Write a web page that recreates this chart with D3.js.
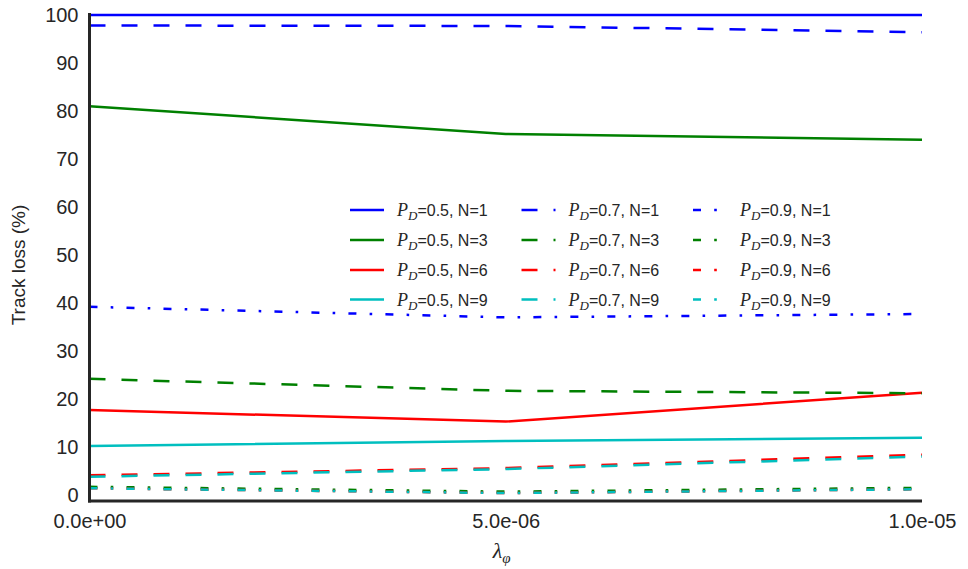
<!DOCTYPE html>
<html>
<head>
<meta charset="utf-8">
<script src="https://cdn.jsdelivr.net/npm/d3@7"></script>
<style>
  html, body { margin: 0; padding: 0; background: #fff; }
  svg { display: block; }
  text { font-family: "Liberation Sans", Arial, sans-serif; fill: #262626; }
</style>
</head>
<body>
<svg id="chart" width="968" height="569"></svg>
<script>
// Clutter rate λφ values along the x axis
const lambdaPhi = [0, 5e-6, 1e-5];
const xTicks = [0, 5e-6, 1e-5];
const yTicks = [0, 10, 20, 30, 40, 50, 60, 70, 80, 90, 100];

// Track loss (%) per detection probability P_D and N
const pd05_n1 = [100, 100, 100];
const pd05_n3 = [81.0, 75.2, 74.0];
const pd05_n6 = [17.7, 15.3, 21.3];
const pd05_n9 = [10.2, 11.25, 11.9];
const pd07_n1 = [97.8, 97.7, 96.4];
const pd07_n3 = [24.2, 21.7, 21.2];
const pd07_n6 = [4.1, 5.6, 8.4];
const pd07_n9 = [3.8, 5.4, 8.0];
const pd09_n1 = [39.2, 37.0, 37.7];
const pd09_n3 = [1.7, 0.7, 1.5];
const pd09_n6 = [1.4, 0.4, 1.2];
const pd09_n9 = [1.4, 0.4, 1.2];

const pdLevels = ["0.5", "0.7", "0.9"];
const nLevels = ["1", "3", "6", "9"];
const seriesValues = [
  [pd05_n1, pd05_n3, pd05_n6, pd05_n9],
  [pd07_n1, pd07_n3, pd07_n6, pd07_n9],
  [pd09_n1, pd09_n3, pd09_n6, pd09_n9]
];

const colorByN = ["#0000ff", "#008000", "#ff0000", "#00bfbf"];
const dashByPd = [null, "16,16", "8,13.2,2.6,13.2"];

const svg = d3.select("#chart");
const plotLeft = 89.5, plotRight = 922, plotTop = 13, plotBottom = 501;

const x = d3.scaleLinear().domain([0, 1e-5]).range([plotLeft, plotRight]);
const y = d3.scaleLinear().domain([-1.25, 100.4]).range([plotBottom, plotTop]);

// Lines, drawn P_D-major so later series sit on top
const line = d3.line().x((d, i) => x(lambdaPhi[i])).y(d => y(d));
const series = [];
pdLevels.forEach((pd, pi) => {
  nLevels.forEach((n, ni) => {
    series.push({ pd, n, values: seriesValues[pi][ni], color: colorByN[ni], dash: dashByPd[pi] });
  });
});

svg.append("g").selectAll("path")
  .data(series)
  .join("path")
  .attr("d", d => line(d.values))
  .attr("fill", "none")
  .attr("stroke", d => d.color)
  .attr("stroke-width", 2.5)
  .attr("stroke-dasharray", d => d.dash);

// Axes (ticks hidden, labels only)
const xAxis = d3.axisBottom(x).tickValues(xTicks).tickSize(0).tickPadding(13)
  .tickFormat(d => d3.format(".1e")(d).replace(/e([+-])(\d)$/, "e$10$2"));
const gx = svg.append("g").attr("transform", `translate(0,${plotBottom})`).call(xAxis);
gx.select(".domain").remove();
gx.selectAll("text").style("font-size", "20px").attr("fill", "#262626");

const yAxis = d3.axisLeft(y).tickValues(yTicks).tickSize(0).tickPadding(11).tickFormat(d3.format("d"));
const gy = svg.append("g").attr("transform", `translate(${plotLeft},0)`).call(yAxis);
gy.select(".domain").remove();
gy.selectAll("text").style("font-size", "20px").attr("fill", "#262626");

// Spines
svg.append("line").attr("x1", plotLeft).attr("x2", plotLeft).attr("y1", plotTop).attr("y2", plotBottom + 1.5)
  .attr("stroke", "#262626").attr("stroke-width", 3);
svg.append("line").attr("x1", plotLeft - 1.5).attr("x2", plotRight).attr("y1", plotBottom).attr("y2", plotBottom)
  .attr("stroke", "#262626").attr("stroke-width", 3);

// Axis titles
svg.append("text")
  .attr("transform", `translate(25,${(plotTop + plotBottom) / 2 + 8}) rotate(-90)`)
  .attr("text-anchor", "middle")
  .style("font-size", "19px")
  .text("Track loss (%)");

const xt = svg.append("text")
  .attr("x", (plotLeft + plotRight) / 2 - 4)
  .attr("y", 558)
  .attr("text-anchor", "middle")
  .style("font-family", "'Liberation Serif', 'DejaVu Serif', serif")
  .style("font-style", "italic")
  .style("font-size", "22px");
xt.append("tspan").text("λ");
xt.append("tspan").attr("dy", 5).style("font-size", "15px").text("φ");

// Legend: three columns (one per P_D), four rows (one per N)
const legend = svg.append("g");
const colX = [350, 521.5, 693];
const rowY = [210, 240, 270, 299.5];
series.forEach(s => {
  const pi = pdLevels.indexOf(s.pd), ni = nLevels.indexOf(s.n);
  const g = legend.append("g").attr("transform", `translate(${colX[pi]},${rowY[ni]})`);
  g.append("line").attr("x1", 0).attr("x2", 34).attr("y1", 0).attr("y2", 0)
    .attr("stroke", s.color).attr("stroke-width", 2.5).attr("stroke-dasharray", s.dash);
  const t = g.append("text").attr("x", 47).attr("y", 6).style("font-size", "16px");
  t.append("tspan").style("font-family", "'Liberation Serif', 'DejaVu Serif', serif")
    .style("font-style", "italic").style("font-size", "18px").text("P");
  t.append("tspan").attr("dy", 4).style("font-family", "'Liberation Serif', 'DejaVu Serif', serif")
    .style("font-style", "italic").style("font-size", "13px").text("D");
  t.append("tspan").attr("dy", -4).text(`=${s.pd}, N=${s.n}`);
});
</script>
</body>
</html>
